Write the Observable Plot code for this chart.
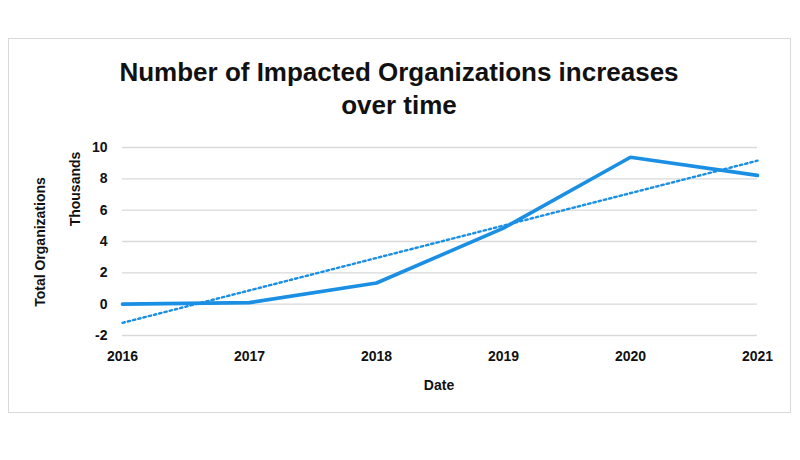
<!DOCTYPE html>
<html>
<head>
<meta charset="utf-8">
<script src="https://cdn.jsdelivr.net/npm/d3@7"></script>
<script src="https://cdn.jsdelivr.net/npm/@observablehq/plot@0.6"></script>
<style>
  html, body { margin: 0; padding: 0; background: #ffffff; }
  #wrap { position: relative; width: 800px; height: 460px; overflow: hidden; font-family: "Liberation Sans", Arial, sans-serif; }
  #frame { position: absolute; left: 8px; top: 38px; width: 783px; height: 375px; border: 1px solid #d9d9d9; box-sizing: border-box; }
  #title { position: absolute; left: 0; width: 798px; top: 56px; text-align: center; font-weight: bold; font-size: 26px; line-height: 33px; color: #111; }
  #chart { position: absolute; left: 0; top: 0; }
  .lab { position: absolute; white-space: nowrap; font-weight: bold; font-size: 14px; color: #111; transform: translate(-50%, -50%); }
  .rot { transform: translate(-50%, -50%) rotate(-90deg); }
</style>
</head>
<body>
<div id="wrap">
  <div id="frame"></div>
  <div id="chart"></div>
  <div id="title">Number of Impacted Organizations increases<br>over time</div>
  <div class="lab rot" style="left:40px; top:242px;">Total Organizations</div>
  <div class="lab rot" style="left:75px; top:189px;">Thousands</div>
  <div class="lab" style="left:439px; top:385px;">Date</div>
</div>
<script>
const years = [2016, 2017, 2018, 2019, 2020, 2021];
const organizationsThousands = [0.0, 0.1, 1.35, 4.85, 9.38, 8.22];
const yTicks = [-2, 0, 2, 4, 6, 8, 10];

const data = years.map((year, i) => ({ year, value: organizationsThousands[i] }));
const blue = "#1a8fe3";

const chart = Plot.plot({
  width: 800,
  height: 460,
  marginLeft: 122,
  marginRight: 43,
  marginTop: 147,
  marginBottom: 125,
  style: { fontFamily: "'Liberation Sans', Arial, sans-serif", fontSize: "14px", fontWeight: "bold", color: "#111", background: "transparent" },
  x: { domain: [2016, 2021] },
  y: { domain: [-2, 10] },
  marks: [
    Plot.gridY(yTicks, { stroke: "#d9d9d9", strokeOpacity: 1, strokeWidth: 1.3 }),
    Plot.axisY(yTicks, { tickSize: 0, tickPadding: 15, label: null, tickFormat: d => String(d), fill: "#111" }),
    Plot.axisX(years, { tickSize: 0, tickPadding: 16, label: null, tickFormat: d => String(d), fill: "#111" }),
    Plot.linearRegressionY(data, { x: "year", y: "value", ci: 0, stroke: blue, strokeWidth: 2.4, strokeDasharray: "2.4,3" }),
    Plot.line(data, { x: "year", y: "value", stroke: blue, strokeWidth: 3.6, strokeLinejoin: "miter" })
  ]
});
document.getElementById("chart").appendChild(chart);
</script>
</body>
</html>
